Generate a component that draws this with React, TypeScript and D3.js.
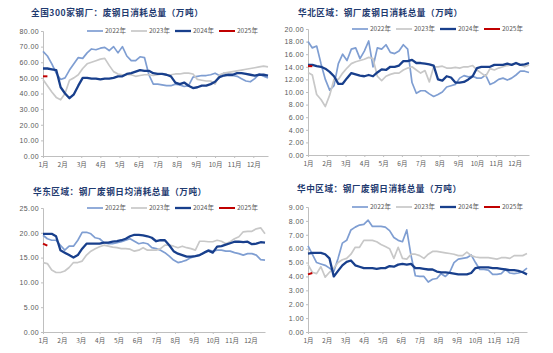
import React, { useEffect, useRef } from 'react';
import * as d3 from 'd3';

const years = ['2022年', '2023年', '2024年', '2025年'];
const months = ['1月', '2月', '3月', '4月', '5月', '6月', '7月', '8月', '9月', '10月', '11月', '12月'];

// 全国300家钢厂
const national2022 = [67, 64, 59, 53, 49, 50, 55, 59, 63, 62.5, 66, 68.5, 68, 69, 69.5, 67.5, 70, 66, 70, 64, 61, 61, 63.5, 63, 52, 46, 46, 45.5, 45, 45, 46, 45.5, 44.5, 45, 50.5, 51, 51.5, 51.5, 52, 53, 51.5, 53, 51.5, 51.5, 51, 49.5, 48, 47.5, 49.5, 52.5, 51, 50];
const national2023 = [49, 45, 41, 37.5, 36, 40, 48.5, 50, 52, 56, 59, 60, 61, 62, 62.5, 58, 54, 52.5, 52, 52, 52, 51, 51.5, 52, 52, 51.5, 52, 52.5, 52, 52, 52.5, 52.5, 53, 53, 52.5, 49, 48.5, 48, 48, 46, 52, 53, 53.5, 54, 54.5, 55, 55.5, 56, 56.5, 57, 57.5, 57];
const national2024 = [56, 56, 55.5, 55, 44, 40, 37, 39.5, 45, 50, 50, 49.5, 49.5, 49, 49.5, 49.5, 50, 51, 51, 52.5, 53, 54, 55, 54.5, 54.5, 53, 52.5, 52.5, 52, 51, 47, 46, 47, 45, 43.5, 44, 45, 45, 46, 47.5, 50.5, 51.5, 52, 52, 53, 53, 52.5, 52, 51.5, 52, 52, 51.5];
const national2025 = [51, 51];

// 华北区域
const north2022 = [18, 17, 17.3, 14.5, 12, 10.3, 11, 14.5, 16, 15, 16.8, 17, 15.3, 16.5, 18.1, 14, 17, 16.8, 17.5, 16.3, 16.1, 16.5, 17.5, 16.8, 11.5, 9.8, 10.2, 10.2, 9.7, 9.3, 9.6, 10, 10.8, 11, 11.2, 12.2, 12.6, 12.4, 12.5, 12.2, 12.2, 12.7, 11.2, 11.5, 12, 12.2, 11.9, 12.2, 12.7, 13.3, 13.3, 13.1];
const north2023 = [13.1, 12.7, 9.6, 8.8, 7.7, 9.5, 12, 12, 13, 13.8, 14.5, 14.8, 15, 15.2, 15.5, 15.3, 12.5, 11.8, 12.5, 12.8, 13, 13, 13.5, 13.8, 14, 13.5, 13, 13.4, 11.6, 14, 14, 14.1, 13.8, 13.8, 13.9, 13.8, 14, 14, 14.2, 13.5, 13, 12.5, 13.7, 13.5, 13.8, 14, 14.2, 14.3, 14.5, 14.3, 14, 14.3];
const north2024 = [14.3, 14.3, 14.1, 14, 13.7, 13.2, 12.5, 11.3, 11.3, 12.2, 13, 12.8, 12.6, 12.5, 12.7, 12.5, 13.1, 13.6, 13.5, 14, 14, 14.2, 14.9, 14.9, 15.1, 14.6, 14.6, 14.5, 14.4, 14.2, 12, 11.8, 12.5, 12.3, 11.5, 11.5, 11.6, 12, 12.5, 13.8, 14, 14, 14, 14.3, 14.3, 14.3, 14.5, 14.3, 14.6, 14.3, 14.4, 14.6];
const north2025 = [14.1, 14.1];

// 华东区域
const east2022 = [19.5, 18.8, 18.5, 18.5, 17.5, 16.5, 17.3, 17.3, 18.5, 20.1, 20.1, 19.8, 19, 18.8, 18, 17.8, 17.8, 18, 18.2, 18.5, 18.8, 18.3, 17.8, 18, 17.8, 17, 16.8, 16.5, 16, 15.3, 14.5, 14, 14.2, 14.5, 15, 15.3, 15.5, 16, 16.5, 16.3, 16.5, 16.5, 16.3, 16.3, 16, 15.8, 15.5, 15.8, 15.8, 15.5, 14.6, 14.5];
const east2023 = [14, 13.8, 12.5, 12, 12, 12.3, 13, 14, 14, 14.3, 15.5, 16.3, 16.8, 17.2, 17.5, 17.3, 17.1, 17, 16.8, 16.8, 16.7, 16.3, 16.5, 17, 16.5, 16.5, 16.5, 16.8, 17.5, 17.5, 17.3, 17, 17.3, 17, 16.8, 16.5, 18.3, 18.3, 18.2, 18.2, 18.5, 18.3, 17.8, 18.2, 18.8, 19.2, 20.2, 20.3, 20.3, 20.8, 21, 19.8];
const east2024 = [19.8, 19.8, 19.8, 19.3, 16.5, 16, 15.5, 15, 15.5, 16.8, 17.8, 17.8, 17.8, 17.8, 18, 18, 18.2, 18.3, 18.5, 18.8, 19.3, 19.6, 19.6, 19.5, 19.3, 19, 18.3, 18.5, 18.5, 17.5, 16.3, 15.8, 15.5, 15.2, 15.2, 15.3, 15.5, 16, 16.4, 16, 17.2, 17.3, 17.6, 17.9, 18.2, 18.2, 18.1, 18.2, 17.7, 17.8, 18.1, 18];
const east2025 = [17.8, 17.4];

// 华中区域
const central2022 = [6.2, 5.6, 5.0, 4.9, 4.8, 4.6, 4.35, 5.3, 6.4, 6.6, 7.35, 7.55, 7.7, 7.75, 8.05, 7.6, 7.6, 7.6, 7.55, 7.3, 6.8, 6.6, 6.5, 7.35, 5.5, 4.05, 4.0, 4.0, 3.6, 3.8, 3.85, 4.2, 4.0, 4.3, 5.0, 5.25, 5.3, 5.35, 5.55, 5.0, 4.5, 4.5, 4.45, 4.15, 4.15, 4.2, 4.5, 4.25, 4.2, 4.25, 4.35, 4.6];
const central2023 = [4.85, 4.3, 4.2, 4.7, 3.95, 4.3, 4.6, 5.0, 5.2, 5.3, 5.6, 6.1, 6.1, 6.6, 6.6, 6.6, 6.5, 6.3, 6.15, 6.0, 5.3, 6.1, 5.3, 5.25, 5.6, 5.6, 5.5, 5.3, 5.6, 5.8, 5.8, 5.75, 5.7, 5.65, 5.6, 5.5, 5.5, 5.75, 5.5, 5.4, 5.35, 5.35, 5.35, 5.3, 5.25, 5.35, 5.35, 5.3, 5.5, 5.5, 5.5, 5.65];
const central2024 = [5.65, 5.7, 5.7, 5.7, 5.6, 5.3, 4.0, 4.4, 4.8, 5.05, 5.15, 4.8, 4.7, 4.6, 4.6, 4.6, 4.55, 4.6, 4.6, 4.75, 4.7, 4.85, 4.9, 4.85, 4.9, 4.6, 4.6, 4.55, 4.5, 4.5, 4.35, 4.3, 4.3, 4.25, 4.2, 4.15, 4.15, 4.15, 4.25, 4.6, 4.65, 4.65, 4.65, 4.6, 4.6, 4.55, 4.5, 4.45, 4.45, 4.4, 4.3, 4.15];
const central2025 = [4.15, 4.25];

const colors = ['#7f9ed2', '#c8c8c8', '#183f8c', '#c00000'];
const widths = [1.7, 1.7, 2.3, 2];

const panels = [
  { title: '全国300家钢厂：废钢日消耗总量（万吨）', series: [national2022, national2023, national2024, national2025], max: 80, step: 10, left: 43, right: 268, top: 31, bottom: 156, titleX: 31, titleY: 16 },
  { title: '华北区域：钢厂废钢日消耗总量（万吨）', series: [north2022, north2023, north2024, north2025], max: 20, step: 2, left: 308, right: 529, top: 29, bottom: 155, titleX: 298, titleY: 16 },
  { title: '华东区域：钢厂废钢日均消耗总量（万吨）', series: [east2022, east2023, east2024, east2025], max: 25, step: 5, left: 43, right: 265, top: 208, bottom: 332, titleX: 33, titleY: 195 },
  { title: '华中区域：钢厂废钢日消耗总量（万吨）', series: [central2022, central2023, central2024, central2025], max: 9, step: 1, left: 308, right: 527, top: 207, bottom: 332, titleX: 297, titleY: 192 },
];

const App = () => {
  const ref = useRef<SVGSVGElement>(null);

  useEffect(() => {
    const svg = d3.select(ref.current);
    svg.selectAll('*').remove();

    panels.forEach((p) => {
      const g = svg.append('g');
      const x = d3.scaleLinear().domain([0, 51]).range([p.left, p.right]);
      const y = d3.scaleLinear().domain([0, p.max]).range([p.bottom, p.top]);

      // title
      g.append('text')
        .attr('x', p.titleX)
        .attr('y', p.titleY)
        .attr('font-family', '"Noto Sans CJK SC", sans-serif')
        .attr('font-weight', 'bold')
        .attr('font-size', 8.6)
        .attr('letter-spacing', 0.55)
        .attr('fill', '#1f3b70')
        .text(p.title);

      // y axis
      const yAxis = g
        .append('g')
        .attr('transform', `translate(${p.left},0)`)
        .call(
          d3
            .axisLeft(y)
            .tickValues(d3.range(0, p.max + p.step / 2, p.step))
            .tickFormat(d3.format('.2f'))
            .tickSize(2)
            .tickPadding(2)
        );
      yAxis.select('.domain').attr('stroke', '#bfbfbf');
      yAxis.selectAll('line').attr('stroke', '#bfbfbf');
      yAxis
        .selectAll('text')
        .attr('font-family', '"Liberation Sans", sans-serif')
        .attr('font-size', 7)
        .attr('letter-spacing', 0.4)
        .attr('fill', '#595959');

      // x axis
      const xAxis = g
        .append('g')
        .attr('transform', `translate(0,${p.bottom})`)
        .call(
          d3
            .axisBottom(x)
            .tickValues(months.map((_, i) => (i * 52) / 12))
            .tickFormat((_, i) => months[i])
            .tickSize(2)
            .tickPadding(4)
            .tickSizeOuter(0)
        );
      xAxis.select('.domain').attr('stroke', '#bfbfbf');
      xAxis.selectAll('line').attr('stroke', '#bfbfbf');
      xAxis
        .selectAll('text')
        .attr('font-family', '"Noto Sans CJK SC", sans-serif')
        .attr('font-size', 6.5)
        .attr('fill', '#595959');

      // lines
      const line = d3
        .line<number>()
        .x((_, i) => x(i))
        .y((d) => y(d));

      p.series.forEach((s, k) => {
        g.append('path')
          .datum(s)
          .attr('d', line)
          .attr('fill', 'none')
          .attr('stroke', colors[k])
          .attr('stroke-width', widths[k])
          .attr('stroke-linejoin', 'round');
      });

      // legend
      years.forEach((yr, k) => {
        const lx = p.left + 44 + k * 44;
        g.append('line')
          .attr('x1', lx)
          .attr('x2', lx + 16)
          .attr('y1', p.top)
          .attr('y2', p.top)
          .attr('stroke', colors[k])
          .attr('stroke-width', widths[k]);
        g.append('text')
          .attr('x', lx + 18)
          .attr('y', p.top + 2.3)
          .attr('font-family', '"Noto Sans CJK SC", sans-serif')
          .attr('font-size', 6.5)
          .attr('fill', '#595959')
          .text(yr);
      });
    });
  }, []);

  return (
    <div style={{ position: 'absolute', left: 0, top: 0 }}>
      <svg ref={ref} width={553} height={353} style={{ display: 'block', background: '#fff' }}></svg>
    </div>
  );
};

export default App;
